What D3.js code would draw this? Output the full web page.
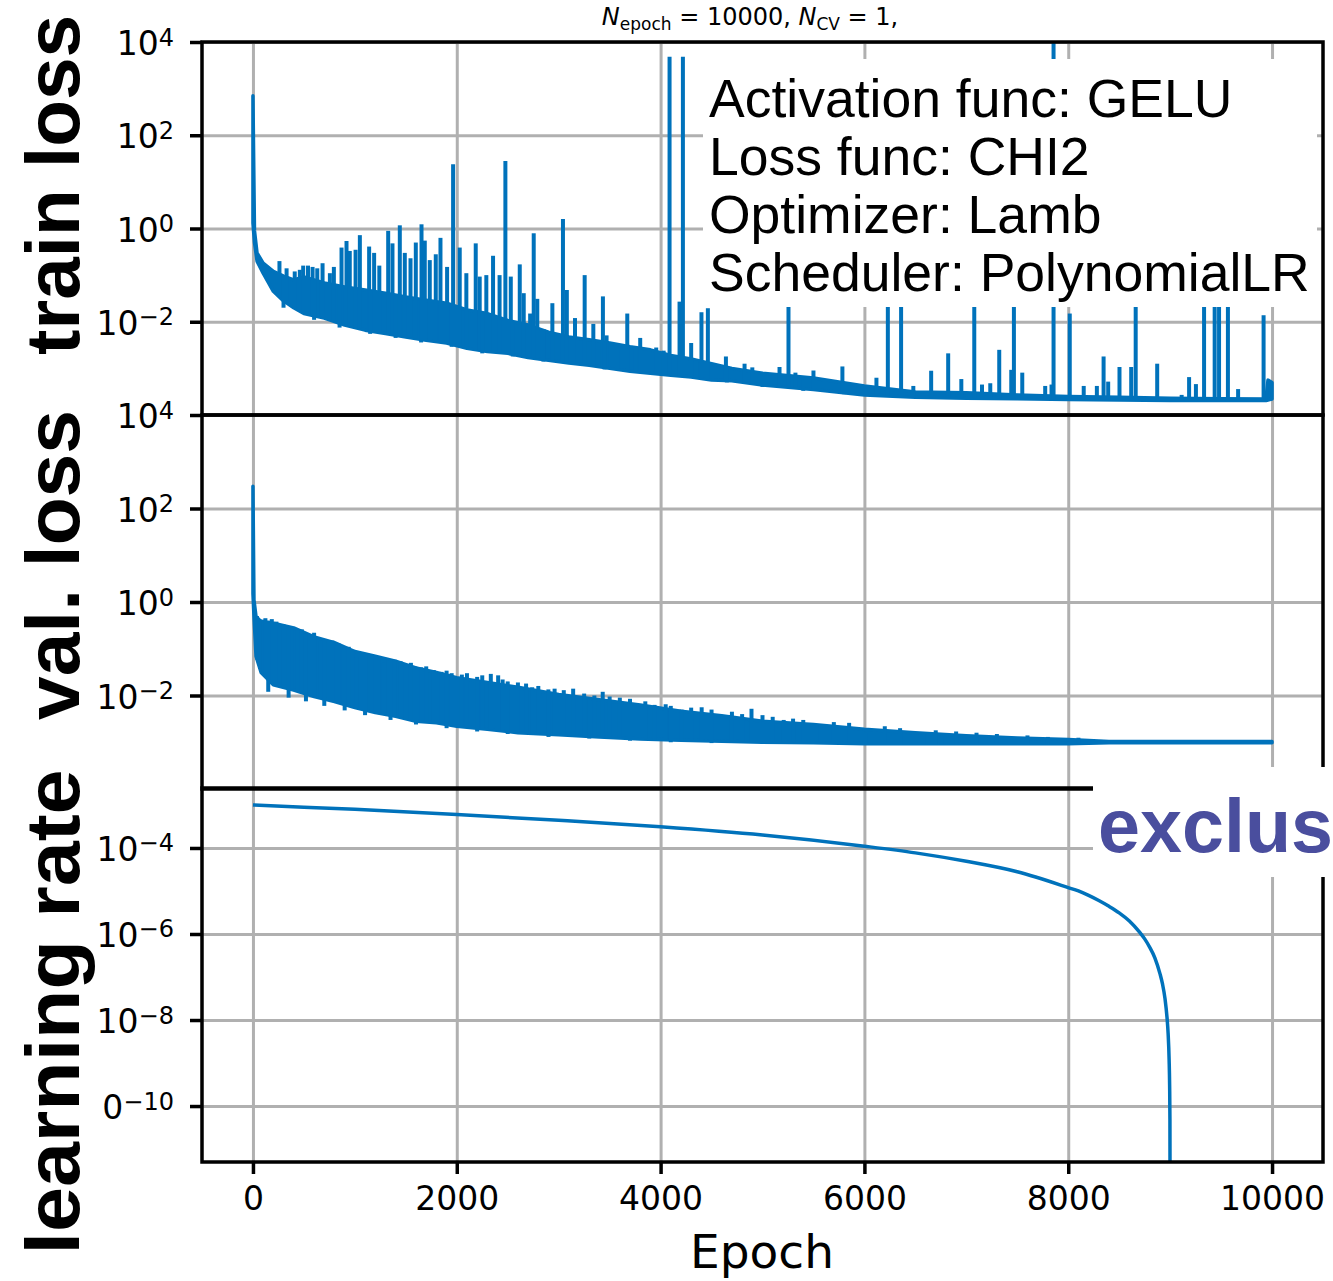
<!DOCTYPE html>
<html><head><meta charset="utf-8">
<script src="https://cdn.jsdelivr.net/npm/d3@7"></script>
<style>body{margin:0;background:#fff;overflow:hidden}svg{display:block}</style>
</head><body><svg id="c" width="1333" height="1281"></svg>
<script>
// ---------------- data ----------------
const epochTicks = [0, 2000, 4000, 6000, 8000, 10000];
const epochLimits = [-500, 10500];
const lossTicks = [1e4, 1e2, 1e0, 1e-2];
const lossTickLabels = [["10","4"],["10","2"],["10","0"],["10","−2"]];
const lossLimits = [1e-4, 1e4];
const lrTicks = [1e-4, 1e-6, 1e-8, 1e-10];
const lrTickLabels = [["10","−4"],["10","−6"],["10","−8"],["0","−10"]];
const lrLimits = [5.0e-12, 2.48e-3];
const panelLabels = ["train loss", "val. loss", "learning rate"];
const infoLines = ["Activation func: GELU", "Loss func: CHI2", "Optimizer: Lamb", "Scheduler: PolynomialLR"];
const stampText = "exclus";

// train loss: dense band (upper / lower envelope) + spikes + dips
const trainEpochs = [0,15,40,100,200,300,400,500,700,900,1100,1300,1500,1700,1900,2100,2300,2500,2700,2900,3100,3300,3500,3700,3900,4100,4300,4500,4700,5000,5500,6000,6500,7000,7500,8000,8500,9000,9500,9940,9960,10000];
const trainUpper = [700,0.9,0.3,0.18,0.12,0.095,0.079,0.091,0.068,0.056,0.048,0.041,0.034,0.029,0.025,0.018,0.015,0.0107,0.0085,0.006,0.0047,0.0041,0.0035,0.0029,0.0025,0.0019,0.0016,0.00126,0.001,0.00079,0.00062,0.00042,0.00031,0.0003,0.00027,0.00025,0.00024,0.00023,0.000224,0.00022,0.00056,0.0005];
const trainLower = [1.3,0.5,0.2,0.11,0.045,0.028,0.02,0.015,0.012,0.0085,0.0066,0.0056,0.0047,0.004,0.0035,0.0027,0.0023,0.0021,0.0017,0.0015,0.0013,0.00117,0.001,0.00087,0.00079,0.00071,0.00065,0.00056,0.00054,0.00044,0.00035,0.00027,0.00024,0.00023,0.000224,0.000214,0.00021,0.000204,0.000204,0.000204,0.00021,0.00022];
const trainSpikeEpochs = [260,330,410,460,493,540,585,631,683,755,794,869,918,950,1007,1049,1140,1189,1240,1327,1369,1441,1490,1546,1598,1654,1686,1735,1794,1840,1905,1964,2029,2094,2186,2225,2290,2356,2420,2477,2530,2618,2657,2720,2755,2790,2853,2938,3042,3080,3160,3255,3340,3434,3470,3580,3673,3800,3957,4030,4088,4186,4219,4300,4401,4464,4641,4824,4900,5167,5255,5323,5500,5784,6118,6230,6360,6480,6655,6822,6951,7078,7154,7235,7323,7441,7467,7549,7774,7836,7856,8015,8152,8281,8347,8392,8503,8618,8662,8873,9113,9186,9253,9333,9437,9480,9567,9667,9917];
const trainSpikeValues = [0.2,0.14,0.12,0.13,0.16,0.16,0.15,0.14,0.18,0.11,0.15,0.39,0.54,0.33,0.35,0.72,0.41,0.30,0.16,0.89,0.48,1.17,0.30,0.23,0.50,1.23,0.55,0.21,0.28,0.63,0.15,24,0.39,0.11,0.48,0.093,0.10,0.26,0.10,28,0.093,0.17,0.041,0.015,0.79,0.031,0.0069,0.025,1.6,0.048,0.012,0.1,0.009,0.035,0.0051,0.0026,0.015,0.0045,0.0028,0.0024,4800,0.027,4800,0.0035,0.016,0.0195,0.0018,0.00126,0.00105,0.00107,0.5,0.00081,0.0009,0.0011,0.00063,0.5,0.5,0.00042,0.00089,0.0021,0.00059,0.5,0.00045,0.00048,0.0025,0.00093,0.5,0.00081,0.00042,0.00045,20000,0.015,0.00042,0.00042,0.0018,0.00052,0.00107,0.00107,0.5,0.00126,0.00027,0.00065,0.00046,0.5,0.5,0.5,0.5,0.00036,0.0138];
const trainDipEpochs = [300,600,850,1150,1400,1650,1950,2250,2550,2850,3150,3450,3750,4050,4350,4650,5000,5400,5800];
const trainDipValues = [0.02,0.011,0.0075,0.0055,0.0045,0.0036,0.0029,0.0021,0.0018,0.0014,0.0012,0.00095,0.0008,0.0007,0.0006,0.0005,0.0004,0.00033,0.00028];

// validation loss
const valEpochs = [0,10,30,80,200,400,600,800,1000,1200,1400,1600,1800,2000,2300,2600,3000,3400,3800,4200,4600,5000,5500,6000,6500,7000,7500,8000,8300,8400,10000];
const valUpper = [300,1.1,0.49,0.38,0.35,0.28,0.18,0.135,0.087,0.069,0.054,0.039,0.031,0.024,0.019,0.015,0.0105,0.0081,0.0063,0.0046,0.0037,0.0028,0.0024,0.0019,0.0016,0.00138,0.00123,0.00115,0.00106,0.00104,0.00104];
const valLower = [1.5,0.5,0.069,0.031,0.017,0.013,0.0095,0.0074,0.0055,0.0043,0.0036,0.0028,0.0026,0.0022,0.0019,0.0016,0.00144,0.0013,0.00117,0.0011,0.00105,0.001,0.00098,0.00093,0.00093,0.00093,0.00093,0.00093,0.00096,0.00098,0.00098];
const valSpikeEpochs = [40,69,100,122,150,185,230,265,300,344,380,440,480,516,560,600,660,700,746,780,840,890,940,980,1020,1060,1118,1160,1230,1283,1330,1390,1448,1500,1550,1593,1650,1700,1774,1850,1900,1950,2050,2100,2200,2250,2334,2406,2450,2500,2600,2680,2740,2800,2899,2960,3050,3142,3250,3350,3432,3500,3600,3700,3850,3941,4050,4100,4206,4300,4403,4500,4700,4800,4892,5000,5100,5208,5300,5400,5569,5700,5850,6010,6200,6350,6580,6700,6760,6900,7100,7300,7600,7800,8100];
const valSpikeValues = [0.5,0.42,0.42,0.45,0.40,0.43,0.38,0.30,0.33,0.26,0.28,0.25,0.26,0.18,0.2,0.22,0.145,0.16,0.145,0.15,0.13,0.10,0.11,0.095,0.065,0.085,0.062,0.075,0.07,0.05,0.06,0.058,0.054,0.047,0.05,0.042,0.04,0.042,0.035,0.032,0.034,0.03,0.028,0.03,0.025,0.027,0.029,0.027,0.022,0.02,0.019,0.018,0.015,0.016,0.0135,0.014,0.013,0.014,0.011,0.01,0.012,0.0095,0.009,0.0085,0.0075,0.0063,0.0065,0.006,0.005,0.0055,0.0056,0.005,0.0045,0.004,0.0052,0.0038,0.0035,0.003,0.0032,0.003,0.0024,0.0027,0.0026,0.0016,0.0022,0.002,0.0015,0.0018,0.0014,0.0017,0.0016,0.0015,0.0014,0.0013,0.00125];
const valDipEpochs = [150,350,520,700,900,1100,1350,1600,1900,2200,2500,2900,3300,3700,4100,4500,5000];
const valDipValues = [0.012,0.009,0.0075,0.006,0.0048,0.0038,0.003,0.0024,0.002,0.0017,0.0015,0.0013,0.0012,0.00108,0.001,0.00096,0.00092];

// learning rate
const lrEpochs = [0,500,1000,2000,3000,4000,5000,6000,6500,7000,7500,8000,8100,8200,8300,8400,8500,8600,8700,8750,8800,8850,8900,8925,8950,8970,8980,8990,8995,8998,9000];
const lrValues = [1e-3,8.9e-4,7.9e-4,6.0e-4,4.4e-4,3.1e-4,2.0e-4,1.1e-4,7.7e-5,4.9e-5,2.8e-5,1.2e-5,1.0e-5,7.9e-6,6.0e-6,4.4e-6,3.1e-6,2.0e-6,1.1e-6,7.7e-7,4.9e-7,2.8e-7,1.2e-7,6.9e-8,3.1e-8,1.1e-8,5e-9,1.2e-9,3e-10,4.9e-11,1e-13];

// ---------------- drawing ----------------
const BLUE = "#0072bb", GRID = "#b0b0b0";
const L = 202, R = 1323;
const svg = d3.select("#c");
const x = d3.scaleLinear().domain(epochLimits).range([L, R]);
const panels = [
  {top: 42, bottom: 415, y: d3.scaleLog().domain(lossLimits).range([415, 42]), ticks: lossTicks, labels: lossTickLabels},
  {top: 415, bottom: 789, y: d3.scaleLog().domain(lossLimits).range([789, 415]), ticks: lossTicks, labels: lossTickLabels},
  {top: 788, bottom: 1162, y: d3.scaleLog().domain(lrLimits).range([1162, 788]), ticks: lrTicks, labels: lrTickLabels}
];
const defs = svg.append("defs");
panels.forEach((p, i) => {
  defs.append("clipPath").attr("id", "clip" + i).append("rect")
    .attr("x", L).attr("y", p.top).attr("width", R - L).attr("height", p.bottom - p.top);
});

// grid
panels.forEach((p, i) => {
  const g = svg.append("g").attr("clip-path", `url(#clip${i})`);
  g.append("g").attr("transform", `translate(0,${p.bottom})`)
    .call(d3.axisBottom(x).tickValues(epochTicks).tickSize(-(p.bottom - p.top)).tickFormat(""))
    .call(a => { a.select(".domain").remove(); a.selectAll("line").attr("stroke", GRID).attr("stroke-width", 3); });
  g.append("g").attr("transform", `translate(${L},0)`)
    .call(d3.axisLeft(p.y).tickValues(p.ticks).tickSize(-(R - L)).tickFormat(""))
    .call(a => { a.select(".domain").remove(); a.selectAll("line").attr("stroke", GRID).attr("stroke-width", 3); });
});

function envAt(ep, vals, e) {
  const i = Math.max(1, Math.min(ep.length - 1, d3.bisectRight(ep, e)));
  const t = (e - ep[i - 1]) / (ep[i] - ep[i - 1]);
  return Math.pow(10, Math.log10(vals[i - 1]) * (1 - t) + Math.log10(vals[i]) * t);
}

function drawBand(idx, ep, up, lo, spE, spV, dpE, dpV) {
  const p = panels[idx];
  const g = svg.append("g").attr("clip-path", `url(#clip${idx})`);
  const rows = ep.map((e, i) => [e, up[i], lo[i]]);
  const area = d3.area().x(d => x(d[0])).y0(d => p.y(d[2])).y1(d => p.y(d[1]));
  g.append("path").datum(rows).attr("d", area).attr("fill", BLUE)
    .attr("stroke", BLUE).attr("stroke-width", 3.5).attr("stroke-linejoin", "round");
  const line = d3.line().x(d => x(d[0])).y(d => p.y(d[1]));
  g.selectAll("path.spike").data(spE.map((e, i) => [e, spV[i]])).join("path")
    .attr("class", "spike")
    .attr("d", d => line([[d[0], envAt(ep, lo, d[0])], [d[0], d[1]]]))
    .attr("stroke", BLUE).attr("stroke-width", 4).attr("fill", "none");
  g.selectAll("path.dip").data(dpE.map((e, i) => [e, dpV[i]])).join("path")
    .attr("class", "dip")
    .attr("d", d => line([[d[0], envAt(ep, up, d[0])], [d[0], d[1]]]))
    .attr("stroke", BLUE).attr("stroke-width", 4).attr("fill", "none");
}
drawBand(0, trainEpochs, trainUpper, trainLower, trainSpikeEpochs, trainSpikeValues, trainDipEpochs, trainDipValues);
drawBand(1, valEpochs, valUpper, valLower, valSpikeEpochs, valSpikeValues, valDipEpochs, valDipValues);

// learning rate
{
  const p = panels[2];
  svg.append("g").attr("clip-path", "url(#clip2)").append("path")
    .datum(lrEpochs.map((e, i) => [e, lrValues[i]]))
    .attr("d", d3.line().curve(d3.curveMonotoneX).x(d => x(d[0])).y(d => p.y(d[1])))
    .attr("fill", "none").attr("stroke", BLUE).attr("stroke-width", 3.5);
}

// info box in panel 1
svg.append("rect").attr("x", 703).attr("y", 59).attr("width", 614).attr("height", 248).attr("fill", "#fff");
svg.append("g").selectAll("text").data(infoLines).join("text")
  .attr("x", 709).attr("y", (d, i) => 117 + i * 58)
  .attr("font-family", "Liberation Sans, Arial, sans-serif").attr("font-size", 53.5).attr("fill", "#000")
  .text(d => d);

// spines, ticks, tick labels
panels.forEach((p, i) => {
  svg.append("rect").attr("x", L).attr("y", p.top).attr("width", R - L).attr("height", p.bottom - p.top)
    .attr("fill", "none").attr("stroke", "#000").attr("stroke-width", 3.5);
  svg.append("g").attr("transform", `translate(${L},0)`)
    .call(d3.axisLeft(p.y).tickValues(p.ticks).tickSize(12).tickFormat(""))
    .call(a => { a.select(".domain").remove(); a.selectAll("line").attr("stroke", "#000").attr("stroke-width", 3.5); });
  const t = svg.append("g").selectAll("text").data(p.ticks).join("text")
    .attr("x", 174).attr("y", d => p.y(d) + 13)
    .attr("text-anchor", "end").attr("font-family", "DejaVu Sans, sans-serif").attr("font-size", 33).attr("fill", "#000");
  t.append("tspan").text((d, k) => p.labels[k][0]);
  t.append("tspan").attr("dy", -9.5).attr("font-size", 24).text((d, k) => p.labels[k][1]);
});
// x axis
svg.append("g").attr("transform", `translate(0,1162)`)
  .call(d3.axisBottom(x).tickValues(epochTicks).tickSize(12).tickPadding(13).tickFormat(d3.format("d")))
  .call(a => {
    a.select(".domain").remove();
    a.selectAll("line").attr("stroke", "#000").attr("stroke-width", 3.5);
    a.selectAll("text").attr("font-family", "DejaVu Sans, sans-serif").attr("font-size", 33).attr("fill", "#000");
  });
svg.append("text").attr("x", 762).attr("y", 1268).attr("text-anchor", "middle")
  .attr("font-family", "DejaVu Sans, sans-serif").attr("font-size", 47).text("Epoch");

// stamp box over panel 3 top-right
svg.append("rect").attr("x", 1093).attr("y", 767).attr("width", 260).attr("height", 110).attr("fill", "#fff");
svg.append("text").attr("x", 1098).attr("y", 852)
  .attr("font-family", "Liberation Sans, Arial, sans-serif").attr("font-weight", "bold").attr("font-size", 75.5)
  .attr("fill", "#4a4e9e").text(stampText);

// y labels
const labelCenters = [185, 565, 1012];
const labelLengths = [340, 310, 485];
svg.append("g").selectAll("text").data(panelLabels).join("text")
  .attr("transform", (d, i) => `translate(79,${labelCenters[i]}) rotate(-90)`)
  .attr("text-anchor", "middle").attr("font-family", "Liberation Sans, Arial, sans-serif")
  .attr("font-weight", "bold").attr("font-size", 76).attr("fill", "#000")
  .attr("textLength", (d, i) => labelLengths[i]).attr("lengthAdjust", "spacingAndGlyphs")
  .text(d => d);

// title
const title = svg.append("text").attr("x", 750).attr("y", 25).attr("text-anchor", "middle")
  .attr("font-family", "DejaVu Sans, sans-serif").attr("font-size", 24);
title.append("tspan").attr("font-style", "italic").text("N");
title.append("tspan").attr("font-size", 17).attr("dy", 5).text("epoch");
title.append("tspan").attr("dy", -5).text(" = 10000, ");
title.append("tspan").attr("font-style", "italic").text("N");
title.append("tspan").attr("font-size", 17).attr("dy", 5).text("CV");
title.append("tspan").attr("dy", -5).text(" = 1,");
</script></body></html>
